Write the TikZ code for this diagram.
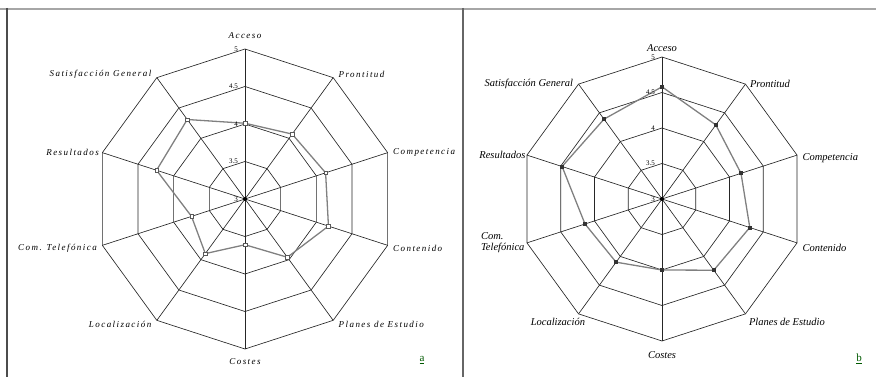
\documentclass[tikz,border=0pt]{standalone}
\usepackage{fontspec}
\setmainfont{Liberation Serif}
\newfontfamily\wide[LetterSpace=16]{Liberation Serif}
\usetikzlibrary{positioning}

\begin{document}
\begin{tikzpicture}[x=1pt,y=1pt,
    web/.style={line width=0.65pt,black!85},
    serie/.style={line width=1.3pt,black!50},
    hollow/.style={draw=black!65,fill=white,line width=0.5pt,inner sep=0pt,minimum size=3.5pt},
    filled/.style={fill=black!80,inner sep=0pt,minimum size=4pt},
    axa/.style={font=\wide\itshape\fontsize{9}{10}\selectfont},
    axb/.style={font=\itshape\fontsize{10.5}{11.5}\selectfont},
    tick/.style={font=\fontsize{7}{7}\selectfont,inner sep=1pt,anchor=east},
    tag/.style={font=\fontsize{11}{11}\selectfont,text=green!35!black}]
\useasboundingbox (0,0) rectangle (876,377);
\draw[line width=2.5pt,black!35] (0,368) -- (876,368);
\draw[line width=1.2pt,black!70] (7,369) -- (7,0);
\draw[line width=1.2pt,black!60] (463,369) -- (463,0);

% a
\begin{scope}[shift={(245,178)}]
    \foreach \i in {0,...,9} {
        \coordinate (a\i) at ({90-36*\i}:150);
        \draw[web] (0,0) -- (a\i);
    }
    \foreach \r in {37.5,75,112.5,150}
        \draw[web] (90:\r) \foreach \i in {1,...,9} {-- ({90-36*\i}:\r)} -- cycle;
    \foreach \v [count=\i from 0] in {4.01,4.07,4.13,4.17,3.96,3.61,3.9,3.75,4.24,4.31}
        \coordinate (p\i) at ({90-36*\i}:{(\v-3)*75});
    \draw[serie] (p0) \foreach \i in {1,...,9} {-- (p\i)} -- cycle;
    \foreach \i in {0,...,9} \node[hollow] (mp\i) at (p\i) {};
    \fill (0,0) circle (2pt);
    \foreach \t [count=\k from 0] in {3,3.5,4,4.5,5}
        \node[tick] (ta\k) at (-6,{\k*37.5}) {\t};
\end{scope}
\node[axa] (acc_a) [above=7pt of a0] {Acceso};
\node[axa] (pro_a) [right=2pt of a1,yshift=3pt] {Prontitud};
\node[axa] (com_a) [right=2pt of a2] {Competencia};
\node[axa] (con_a) [right=2pt of a3,yshift=-3pt] {Contenido};
\node[axa] (pla_a) [right=2pt of a4,yshift=-4pt] {Planes de Estudio};
\node[axa] (cos_a) [below=6pt of a5] {Costes};
\node[axa] (loc_a) [left=2pt of a6,yshift=-4pt] {Localización};
\node[axa] (tel_a) [left=2pt of a7,yshift=-3pt] {Com. Telefónica};
\node[axa] (res_a) [left=0pt of a8] {Resultados};
\node[axa] (sat_a) [left=2pt of a9,yshift=3pt] {Satisfacción General};
\node[tag] (la) at (422,17) {\underline{a}};

% b
\begin{scope}[shift={(662,178)}]
    \foreach \i in {0,...,9} {
        \coordinate (b\i) at ({90-36*\i}:142);
        \draw[web] (0,0) -- (b\i);
    }
    \foreach \r in {35.5,71,106.5,142}
        \draw[web] (90:\r) \foreach \i in {1,...,9} {-- ({90-36*\i}:\r)} -- cycle;
    \foreach \v [count=\i from 0] in {4.58,4.29,4.17,4.3,4.24,4.0,4.1,4.14,4.48,4.39}
        \coordinate (q\i) at ({90-36*\i}:{(\v-3)*71});
    \draw[serie] (q0) \foreach \i in {1,...,9} {-- (q\i)} -- cycle;
    \foreach \i in {0,...,9} \node[filled] (mq\i) at (q\i) {};
    \fill (0,0) circle (2pt);
    \foreach \t [count=\k from 0] in {3,3.5,4,4.5,5}
        \node[tick] (tb\k) at (-6,{\k*35.5}) {\t};
\end{scope}
\node[axb] (acc_b) [above=2pt of b0] {Acceso};
\node[axb] (pro_b) [right=1pt of b1] {Prontitud};
\node[axb] (com_b) [right=2pt of b2,yshift=-3pt] {Competencia};
\node[axb] (con_b) [right=2pt of b3,yshift=-5pt] {Contenido};
\node[axb] (pla_b) [below right=1pt and 0pt of b4] {Planes de Estudio};
\node[axb] (cos_b) [below=7pt of b5] {Costes};
\node[axb] (loc_b) [below left=1pt and -10pt of b6] {Localización};
\node[axb,align=left] (tel_b) [left=-1pt of b7] {Com.\\Telefónica};
\node[axb] (res_b) [left=-2pt of b8] {Resultados};
\node[axb] (sat_b) [left=2pt of b9] {Satisfacción General};
\node[tag] (lb) at (859,18) {\underline{b}};
\end{tikzpicture}
\end{document}
